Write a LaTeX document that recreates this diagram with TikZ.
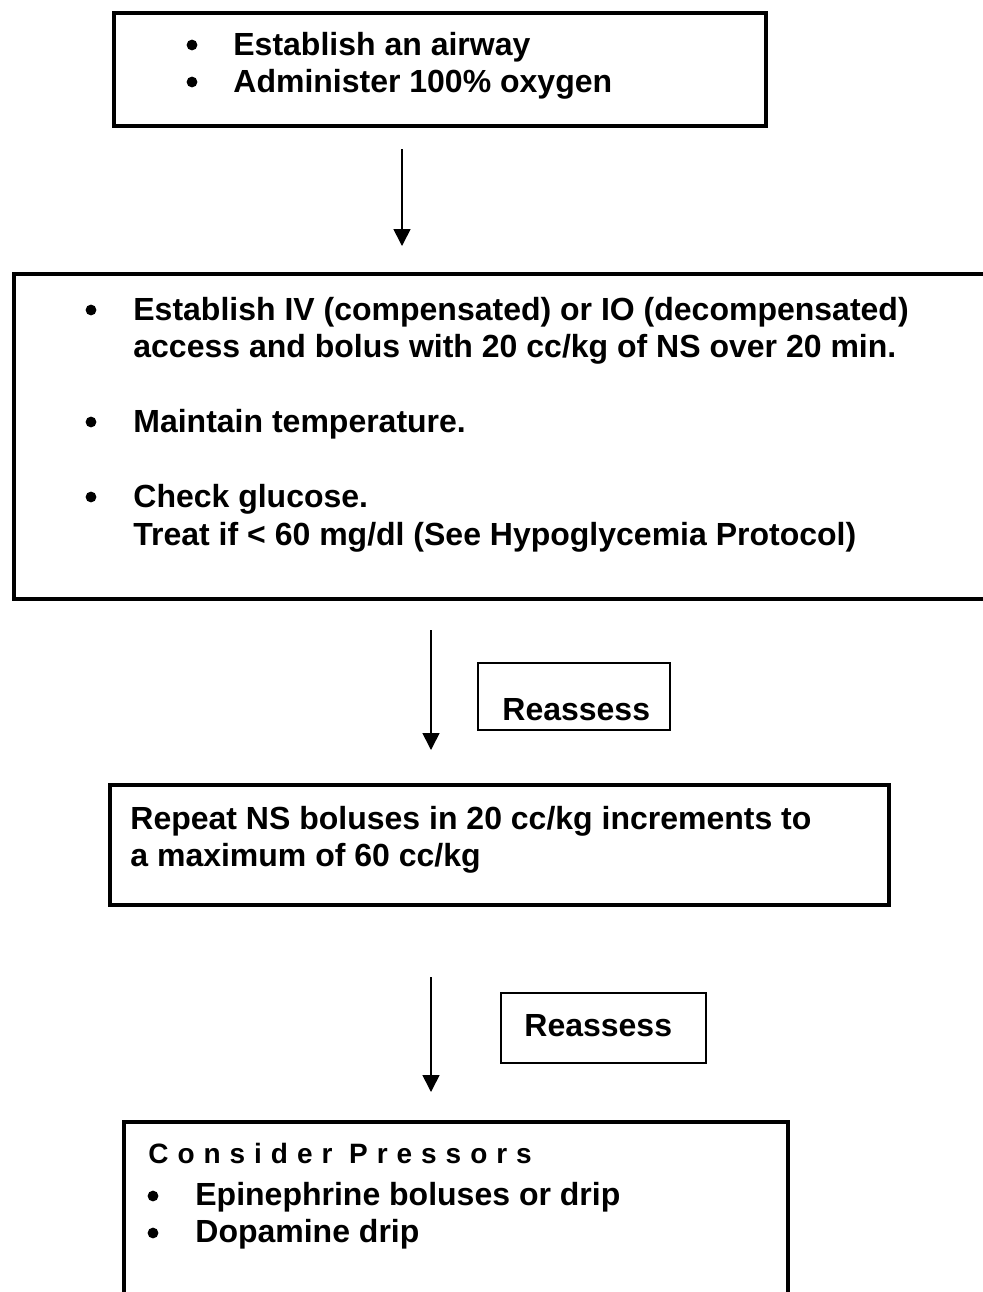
\documentclass[tikz,border=0pt]{standalone}
\usepackage{fontspec}
\setmainfont{Liberation Sans}
\usetikzlibrary{arrows.meta,fit}

\begin{document}
\begin{tikzpicture}[x=0.5pt,y=-0.5pt,
		bigbox/.style={draw,line width=2.4pt,inner sep=0pt,outer sep=0pt},
		smallbox/.style={draw,line width=0.7pt,inner sep=0pt,outer sep=0pt},
		txt/.style={anchor=base west,inner sep=0pt,font=\fontsize{16}{19}\selectfont\bfseries},
		dot/.style={circle,fill,inner sep=0pt,minimum size=5.4pt},
		flow/.style={line width=0.8pt,-{Triangle[width=8.5pt,length=8.5pt]}}]
		\useasboundingbox (0,0) rectangle (982,1292);
		\node[bigbox,fit={(114,13) (766,126)}](airway){};
		\node[dot](d1) at (192,45) {};
		\node[dot](d2) at (192,82) {};
		\node[txt](t1) at (233,55) {Establish an airway};
		\node[txt](t2) at (233,92) {Administer 100\% oxygen};
		\coordinate (f1s) at (402,149);
		\coordinate (f1e) at (402,246);
		\draw[flow] (f1s) -- (f1e);
		\node[bigbox,fit={(14,274) (1000,599)}](access){};
		\node[dot](d3) at (91,310) {};
		\node[dot](d4) at (91,422) {};
		\node[dot](d5) at (91,497) {};
		\node[txt](t3) at (133,320) {Establish IV (compensated) or IO (decompensated)};
		\node[txt](t4) at (133,357) {access and bolus with 20 cc/kg of NS over 20 min.};
		\node[txt](t5) at (133,432) {Maintain temperature.};
		\node[txt](t6) at (133,507) {Check glucose.};
		\node[txt](t7) at (133,545) {Treat if < 60 mg/dl (See Hypoglycemia Protocol)};
		\coordinate (f2s) at (431,630);
		\coordinate (f2e) at (431,750);
		\draw[flow] (f2s) -- (f2e);
		\node[smallbox,fit={(478,663) (670,730)}](reass1){};
		\node[txt](t8) at (502,720) {Reassess};
		\node[bigbox,fit={(110,785) (889,905)}](repeat){};
		\node[txt](t9) at (130,829) {Repeat NS boluses in 20 cc/kg increments to};
		\node[txt](t10) at (130,866) {a maximum of 60 cc/kg};
		\coordinate (f3s) at (431,977);
		\coordinate (f3e) at (431,1092);
		\draw[flow] (f3s) -- (f3e);
		\node[smallbox,fit={(501,993) (706,1063)}](reass2){};
		\node[txt](t11) at (524,1036) {Reassess};
		\node[bigbox,fit={(124,1122) (788,1330)}](pressors){};
		\node[txt,font=\fontsize{14}{16}\selectfont\bfseries\addfontfeature{LetterSpace=32}](t12) at (148,1163) {Consider Pressors};
		\node[dot](d6) at (153,1196) {};
		\node[dot](d7) at (153,1233) {};
		\node[txt](t13) at (195,1205) {Epinephrine boluses or drip};
		\node[txt](t14) at (195,1242) {Dopamine drip};
\end{tikzpicture}
\end{document}
